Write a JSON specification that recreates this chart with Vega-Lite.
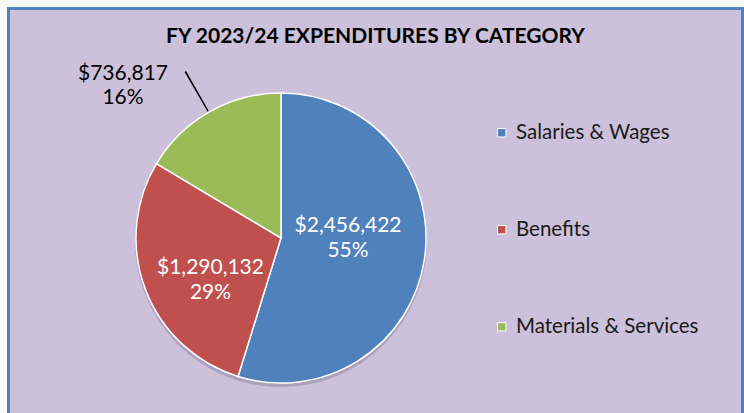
{
  "$schema": "https://vega.github.io/schema/vega-lite/v6.json",
  "autosize": "none",
  "width": 734,
  "height": 407.5,
  "padding": {"left": 8.5, "top": 8.5, "right": 1.5, "bottom": -3},
  "background": "#F8FAFA",
  "config": {
    "view": {"stroke": null},
    "font": "Lato"
  },
  "title": {
    "text": "FY 2023/24 EXPENDITURES BY CATEGORY",
    "orient": "top",
    "anchor": "middle",
    "offset": -40,
    "fontSize": 21,
    "fontWeight": "bold",
    "font": "Lato",
    "color": "#000000"
  },
  "data": {
    "values": [
      {"category": "Salaries & Wages", "value": 2456422, "label": "$2,456,422\n55%"},
      {"category": "Benefits", "value": 1290132, "label": "$1,290,132\n29%"},
      {"category": "Materials & Services", "value": 736817, "label": "$736,817\n16%"}
    ]
  },
  "layer": [
    {
      "data": {"values": [{"frame": 1}]},
      "mark": {"type": "rect", "fill": "#CCC0DA", "stroke": "#4F81BD", "strokeWidth": 3},
      "encoding": {}
    },
    {
      "data": {"values": [{"frame": 1}]},
      "mark": {"type": "arc", "x": 272.5, "y": 232.5, "theta": 0, "theta2": 6.2832, "radius": 146, "fill": "#6f6480", "opacity": 0.35},
      "encoding": {}
    },
    {
      "mark": {"type": "arc", "x": 272.5, "y": 229.5, "radius": 145, "stroke": "#FFFFFF", "strokeWidth": 1.5},
      "encoding": {
        "theta": {"field": "value", "type": "quantitative", "stack": true},
        "order": {"field": "value", "type": "quantitative", "sort": "descending"},
        "color": {
          "field": "category",
          "type": "nominal",
          "scale": {
            "domain": ["Salaries & Wages", "Benefits", "Materials & Services"],
            "range": ["#4F81BD", "#C0504D", "#9BBB59"]
          },
          "legend": {
            "title": null,
            "orient": "none",
            "legendX": 483,
            "legendY": 114,
            "symbolType": "square",
            "symbolSize": 70,
            "symbolStrokeColor": "#FFFFFF",
            "symbolStrokeWidth": 1,
            "labelFontSize": 20.5,
            "labelFont": "Lato",
            "labelColor": "#1a1a1a",
            "labelOffset": 4,
            "labelLimit": 400,
            "rowPadding": 76
          }
        }
      }
    },
    {
      "data": {"values": [{"frame": 1}]},
      "mark": {"type": "arc", "x": 272.5, "y": 229.5, "theta": 5.757, "theta2": 5.766, "radius": 192, "radius2": 146, "fill": "#000000"},
      "encoding": {}
    },
    {
      "mark": {"type": "text", "x": 272.5, "y": 229.5, "radius": 67, "thetaOffset": -0.15, "dy": -12, "lineBreak": "\n", "lineHeight": 25, "fontSize": 21, "font": "Lato", "fill": "#FFFFFF", "align": "center", "baseline": "middle"},
      "encoding": {
        "theta": {"field": "value", "type": "quantitative", "stack": true},
        "order": {"field": "value", "type": "quantitative", "sort": "descending"},
        "text": {"field": "label"},
        "opacity": {"condition": {"test": "datum.category === 'Salaries & Wages'", "value": 1}, "value": 0}
      }
    },
    {
      "mark": {"type": "text", "x": 272.5, "y": 229.5, "radius": 82, "thetaOffset": -0.17, "dy": -12, "lineBreak": "\n", "lineHeight": 25, "fontSize": 21, "font": "Lato", "fill": "#FFFFFF", "align": "center", "baseline": "middle"},
      "encoding": {
        "theta": {"field": "value", "type": "quantitative", "stack": true},
        "order": {"field": "value", "type": "quantitative", "sort": "descending"},
        "text": {"field": "label"},
        "opacity": {"condition": {"test": "datum.category === 'Benefits'", "value": 1}, "value": 0}
      }
    },
    {
      "mark": {"type": "text", "x": 272.5, "y": 229.5, "radius": 220, "thetaOffset": -0.285, "dy": -11, "lineBreak": "\n", "lineHeight": 24, "fontSize": 21, "font": "Lato", "fill": "#000000", "align": "center", "baseline": "middle"},
      "encoding": {
        "theta": {"field": "value", "type": "quantitative", "stack": true},
        "order": {"field": "value", "type": "quantitative", "sort": "descending"},
        "text": {"field": "label"},
        "opacity": {"condition": {"test": "datum.category === 'Materials & Services'", "value": 1}, "value": 0}
      }
    }
  ]
}
